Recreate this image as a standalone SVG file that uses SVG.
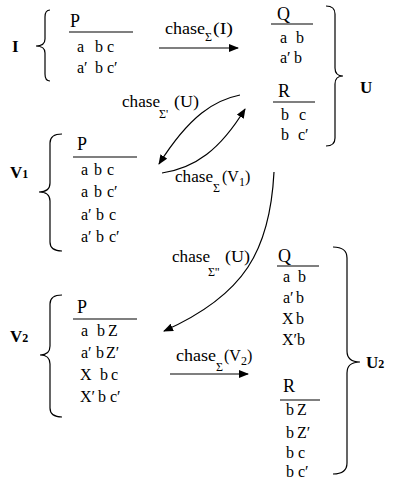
<svg xmlns="http://www.w3.org/2000/svg" width="393" height="483" viewBox="0 0 393 483" font-family="'Liberation Serif', 'DejaVu Serif', serif">
<style>
text{font-family:"Liberation Serif","DejaVu Serif",serif;fill:#000}
.r{font-size:16px}
.h{font-size:18px}
.b{font-size:17px;font-weight:bold}
.bs{font-size:12px;font-weight:bold}
.l{font-size:16px}
.s{font-size:12px}
.ln{stroke:#555;stroke-width:1.4}
.br{fill:none;stroke:#000;stroke-width:1.2}
.cn{fill:none;stroke:#000;stroke-width:1.2}
</style>
<defs>
<marker id="ah" viewBox="0 0 10 8" refX="9" refY="4" markerWidth="10" markerHeight="8" markerUnits="userSpaceOnUse" orient="auto">
<path d="M0,0 L10,4 L0,8 Z" fill="#000"/>
</marker>
</defs>
<rect width="393" height="483" fill="#fff"/>

<g id="node-I">
<text class="b" x="12" y="52">I</text>
<path class="br" d="M50 10 Q45 10 45 17 L45 39 Q45 46 36 46 Q45 46 45 53 L45 74 Q45 81 50 81"/>
<text class="h" x="70" y="27">P</text>
<line class="ln" x1="69" y1="32" x2="133" y2="32"/>
<text class="r" y="52"><tspan x="77">a</tspan><tspan x="95">b</tspan><tspan x="107">c</tspan></text>
<text class="r" y="73"><tspan x="77">a′</tspan><tspan x="95">b</tspan><tspan x="107">c′</tspan></text>
</g>

<g id="node-U">
<text class="h" x="277" y="20">Q</text>
<line class="ln" x1="271" y1="24" x2="313" y2="24"/>
<text class="r" y="43"><tspan x="280">a</tspan><tspan x="296">b</tspan></text>
<text class="r" y="63"><tspan x="280">a′</tspan><tspan x="294">b</tspan></text>
<text class="h" x="278" y="97">R</text>
<line class="ln" x1="273" y1="102" x2="315" y2="102"/>
<text class="r" y="120"><tspan x="281">b</tspan><tspan x="299">c</tspan></text>
<text class="r" y="140"><tspan x="281">b</tspan><tspan x="298">c′</tspan></text>
<path class="br" d="M326 6 Q335 6 335 14 L335 68 Q335 76 343 76 Q335 76 335 84 L335 138 Q335 146 326 146"/>
<text class="b" x="360" y="93">U</text>
</g>

<g id="node-V1">
<text class="b" x="10" y="178">V<tspan class="bs">1</tspan></text>
<path class="br" d="M62 134 Q50 134 50 143 L50 183 Q50 192 39 192 Q50 192 50 201 L50 242 Q50 251 62 251"/>
<text class="h" x="77" y="150">P</text>
<line class="ln" x1="73" y1="157" x2="137" y2="157"/>
<text class="r" y="175"><tspan x="81">a</tspan><tspan x="94">b</tspan><tspan x="107">c</tspan></text>
<text class="r" y="197"><tspan x="81">a</tspan><tspan x="94">b</tspan><tspan x="107">c′</tspan></text>
<text class="r" y="220"><tspan x="81">a′</tspan><tspan x="96">b</tspan><tspan x="109">c</tspan></text>
<text class="r" y="242"><tspan x="81">a′</tspan><tspan x="96">b</tspan><tspan x="109">c′</tspan></text>
</g>

<g id="node-V2">
<text class="b" x="10" y="342">V<tspan class="bs">2</tspan></text>
<path class="br" d="M62 295 Q50 295 50 304 L50 346 Q50 355 40 355 Q50 355 50 364 L50 408 Q50 417 62 417"/>
<text class="h" x="77" y="313">P</text>
<line class="ln" x1="73" y1="319" x2="137" y2="319"/>
<text class="r" y="336"><tspan x="81">a</tspan><tspan x="97">b</tspan><tspan x="108">Z</tspan></text>
<text class="r" y="358"><tspan x="81">a′</tspan><tspan x="96">b</tspan><tspan x="106">Z′</tspan></text>
<text class="r" y="380"><tspan x="80">X</tspan><tspan x="100">b</tspan><tspan x="111">c</tspan></text>
<text class="r" y="402"><tspan x="80">X′</tspan><tspan x="98">b</tspan><tspan x="110">c′</tspan></text>
</g>

<g id="node-U2">
<text class="h" x="278" y="262">Q</text>
<line class="ln" x1="277" y1="266" x2="319" y2="266"/>
<text class="r" y="282"><tspan x="283">a</tspan><tspan x="298">b</tspan></text>
<text class="r" y="303"><tspan x="283">a′</tspan><tspan x="296">b</tspan></text>
<text class="r" y="324"><tspan x="282">X</tspan><tspan x="296">b</tspan></text>
<text class="r" y="345"><tspan x="282">X′</tspan><tspan x="297">b</tspan></text>
<text class="h" x="283" y="392">R</text>
<line class="ln" x1="280" y1="400" x2="320" y2="400"/>
<text class="r" y="415"><tspan x="286">b</tspan><tspan x="297">Z</tspan></text>
<text class="r" y="438"><tspan x="286">b</tspan><tspan x="297">Z′</tspan></text>
<text class="r" y="458"><tspan x="286">b</tspan><tspan x="298">c</tspan></text>
<text class="r" y="477"><tspan x="286">b</tspan><tspan x="298">c′</tspan></text>
<path class="br" d="M333 247 Q347 247 347 258 L347 351 Q347 362 360 362 Q347 362 347 373 L347 463 Q347 474 333 474"/>
<text class="b" x="366" y="368">U<tspan class="bs">2</tspan></text>
</g>

<g id="connectors">
<line class="cn" x1="159" y1="48" x2="238" y2="48" marker-end="url(#ah)"/>
<path class="cn" d="M240 95 C215 100 190 115 159 164" marker-end="url(#ah)"/>
<path class="cn" d="M162 173 C195 168 220 150 245 109" marker-end="url(#ah)"/>
<path class="cn" d="M274 172 C270 250 245 295 164 331" marker-end="url(#ah)"/>
<line class="cn" x1="170" y1="374" x2="248" y2="374" marker-end="url(#ah)"/>
<text class="l" x="165" y="34" textLength="40" lengthAdjust="spacingAndGlyphs">chase</text>
<text class="s" x="205" y="41">Σ</text>
<text class="l" x="213" y="34" textLength="20" lengthAdjust="spacingAndGlyphs">(I)</text>
<text class="l" x="122" y="107" textLength="38" lengthAdjust="spacingAndGlyphs">chase</text>
<text class="s" x="159" y="118">Σ'</text>
<text class="l" x="174" y="107" textLength="25" lengthAdjust="spacingAndGlyphs">(U)</text>
<text class="l" x="175" y="182" textLength="38" lengthAdjust="spacingAndGlyphs">chase</text>
<text class="s" x="213" y="192">Σ</text>
<text class="l" x="222" y="182">(V<tspan class="s" dy="4">1</tspan><tspan dy="-4">)</tspan></text>
<text class="l" x="172" y="262" textLength="38" lengthAdjust="spacingAndGlyphs">chase</text>
<text class="s" x="208" y="276">Σ''</text>
<text class="l" x="225" y="262" textLength="25" lengthAdjust="spacingAndGlyphs">(U)</text>
<text class="l" x="176" y="361" textLength="40" lengthAdjust="spacingAndGlyphs">chase</text>
<text class="s" x="216" y="371">Σ</text>
<text class="l" x="224" y="361">(V<tspan class="s" dy="4">2</tspan><tspan dy="-4">)</tspan></text>
</g>
</svg>
